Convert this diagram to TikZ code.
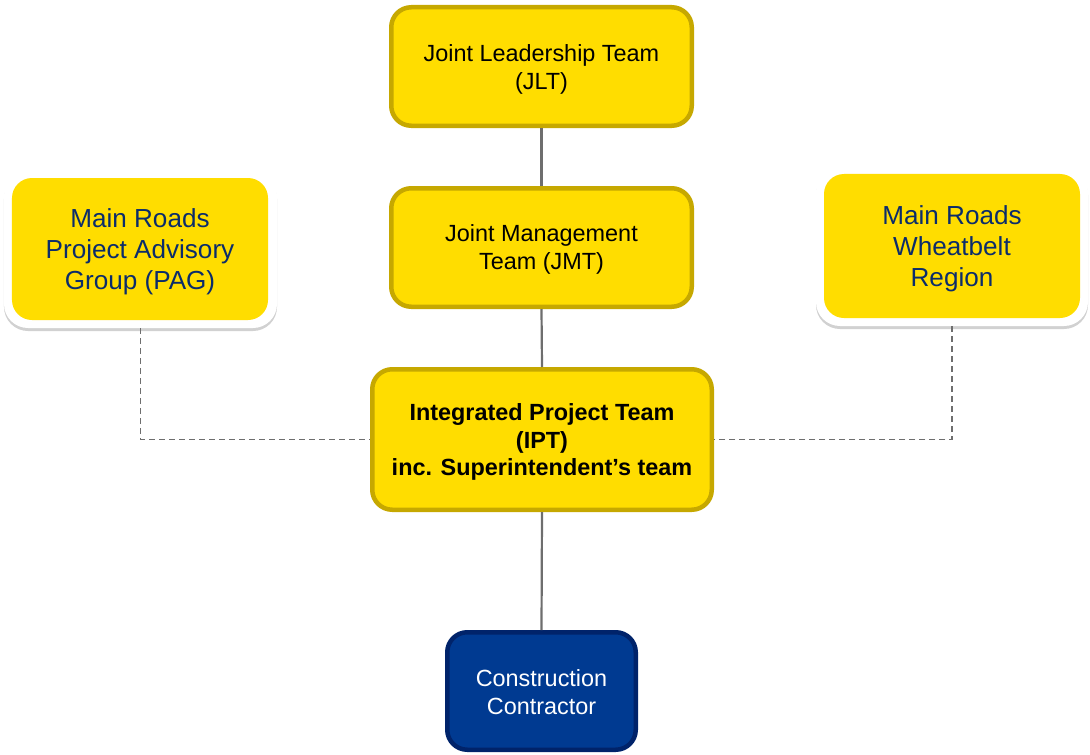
\documentclass[tikz,border=0pt]{standalone}
\usepackage{fontspec}
\setmainfont{Liberation Sans}
\usetikzlibrary{shadows}
\definecolor{boxyellow}{HTML}{FFDD00}
\definecolor{goldedge}{HTML}{C6A800}
\definecolor{linegray}{HTML}{6E6E6E}
\definecolor{navyfill}{HTML}{003A91}
\definecolor{navyedge}{HTML}{00236A}
\definecolor{navytext}{HTML}{0B2C6B}
\begin{document}
\begin{tikzpicture}[x=1bp,y=-1bp,
  goldbox/.style={draw=goldedge, line width=4.5bp, fill=boxyellow, rounded corners=20bp, inner sep=0pt},
  navybox/.style={draw=navyedge, line width=4.5bp, fill=navyfill, rounded corners=20bp, inner sep=0pt},
  whitebox/.style={fill=white, rounded corners=24bp, inner sep=0pt,
    drop shadow={shadow xshift=0bp, shadow yshift=-3bp, opacity=0.3, fill=black!60}},
  sidebox/.style={fill=boxyellow, rounded corners=20bp, inner sep=0pt},
  maintext/.style={align=center, inner sep=0pt, font=\fontsize{23.5}{27.8}\selectfont},
  boldtext/.style={align=center, inner sep=0pt, font=\bfseries\fontsize{23.5}{27.5}\selectfont},
  sidetext/.style={align=center, inner sep=0pt, text=navytext, font=\fontsize{26.2}{31}\selectfont},
  solidlink/.style={draw=linegray, line width=2.2bp},
  dashlink/.style={draw=linegray, line width=1.6bp, dash pattern=on 6bp off 4bp}
]
\useasboundingbox (0,0) rectangle (1090,755);

% central column
\node[goldbox, minimum width=300.5bp, minimum height=118.5bp] (jlt) at (541.5,66.5) {};
\node[maintext, yshift=-3bp] (jlttext) at (jlt.center) {Joint Leadership Team\\(JLT)};
\node[goldbox, minimum width=300.5bp, minimum height=118.5bp] (jmt) at (541.5,247.5) {};
\node[maintext, yshift=-2bp] (jmttext) at (jmt.center) {Joint Management\\Team (JMT)};
\node[goldbox, minimum width=339.5bp, minimum height=140.5bp] (ipt) at (542,439.5) {};
\node[boldtext, yshift=-2.5bp] (ipttext) at (ipt.center) {Integrated Project Team\\(IPT)\\inc. Superintendent’s team};
\node[navybox, minimum width=188.5bp, minimum height=117.5bp] (cc) at (541.5,691) {};
\node[maintext, text=white, yshift=-1bp] (cctext) at (cc.center) {Construction\\Contractor};

% side boxes
\node[whitebox, minimum width=273bp, minimum height=156bp] (pagbg) at (140.5,250) {};
\node[sidebox, minimum width=256bp, minimum height=142bp] (pag) at (140,249) {};
\node[sidetext, yshift=-3bp] (pagtext) at (pag.center) {Main Roads\\Project Advisory\\Group (PAG)};
\node[whitebox, minimum width=272bp, minimum height=158bp] (wbbg) at (952,247) {};
\node[sidebox, minimum width=256bp, minimum height=144bp] (wb) at (952,246) {};
\node[sidetext, yshift=-3bp] (wbtext) at (wb.center) {Main Roads\\Wheatbelt\\Region};

% connectors
\draw[solidlink] (jlt.south) -- (jmt.north);
\draw[solidlink] (jmt.south) -- (ipt.north);
\draw[solidlink] (ipt.south) -- (cc.north);
\draw[dashlink] (pagbg.south) |- (ipt.west);
\draw[dashlink] (wbbg.south) |- (ipt.east);
\end{tikzpicture}
\end{document}
